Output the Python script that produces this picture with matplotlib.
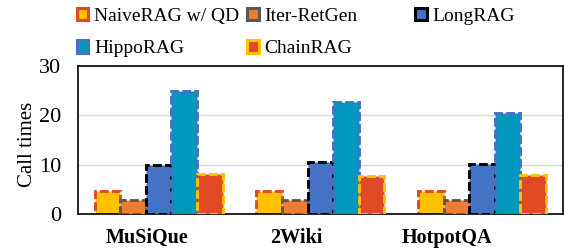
import matplotlib
matplotlib.use("Agg")
import matplotlib.pyplot as plt
import numpy as np
from matplotlib.patches import Rectangle

# ===========================
# DATA
# ===========================
datasets = ["MuSiQue", "2Wiki", "HotpotQA"]
methods = ["NaiveRAG w/ QD", "Iter-RetGen", "LongRAG", "HippoRAG", "ChainRAG"]
naive_qd = [4.7, 4.6, 4.6]
iter_retgen = [2.8, 2.8, 2.8]
long_rag = [10.0, 10.5, 10.1]
hippo_rag = [24.8, 22.6, 20.4]
chain_rag = [8.2, 7.8, 8.0]
yticks = [0, 10, 20, 30]

series = [naive_qd, iter_retgen, long_rag, hippo_rag, chain_rag]
faces = ["#FFC000", "#ED7D31", "#4472C4", "#0099BD", "#E04B25"]
edges = ["#E04B25", "#595959", "#000000", "#4472C4", "#FFC000"]

# ===========================
# STYLE
# ===========================
plt.rcParams["font.family"] = ["Liberation Serif", "DejaVu Serif"]
plt.rcParams["font.size"] = 16

fig = plt.figure(figsize=(5.64, 2.52), dpi=100)
ax = fig.add_axes([0.138, 0.150, 0.860, 0.589])

# ===========================
# BARS
# ===========================
x = np.arange(len(datasets)) + 0.5
width = 0.158
dash = (0, (3, 1.1))
for i, vals in enumerate(series):
    ax.bar(x + (i - 2) * width, vals, width, color=faces[i],
           edgecolor=edges[i], linewidth=2.1, linestyle=dash,
           zorder=2 + i)

ax.set_xlim(0, 3)
ax.set_ylim(0, 30)
ax.set_yticks(yticks)
ax.yaxis.grid(True, color="#D9D9D9", linewidth=1.0, zorder=0)
ax.set_axisbelow(True)

# labels sit a bit left of the groups, like the original
ax.set_xticks([0.427, 1.354, 2.282])
ax.set_xticklabels(datasets, fontweight="bold", fontsize=14.5)
ax.tick_params(axis="both", length=0)
ax.tick_params(axis="x", pad=10)
ax.tick_params(axis="y", pad=12)
for s in ax.spines.values():
    s.set_linewidth(1.2)
    s.set_color("black")

ax.set_ylabel("Call times", fontsize=15)
ax.yaxis.set_label_coords(-0.085, 0.47)

# ===========================
# LEGEND (three equal-width columns)
# ===========================
def handle(i):
    return Rectangle((0, 0), 1, 1, facecolor=faces[i], edgecolor=edges[i],
                     linewidth=2.2)

columns = [[0, 3], [1, 4], [2]]
col_x = [0.122, 0.424, 0.722]
for cx, idx in zip(col_x, columns):
    leg = fig.legend([handle(i) for i in idx], [methods[i] for i in idx],
                     loc="upper left", bbox_to_anchor=(cx, 1.0),
                     frameon=False, ncol=1, handlelength=0.6,
                     handleheight=0.6, handletextpad=0.3,
                     labelspacing=0.8, borderaxespad=0, fontsize=14)

plt.savefig("out.png", dpi=100)
